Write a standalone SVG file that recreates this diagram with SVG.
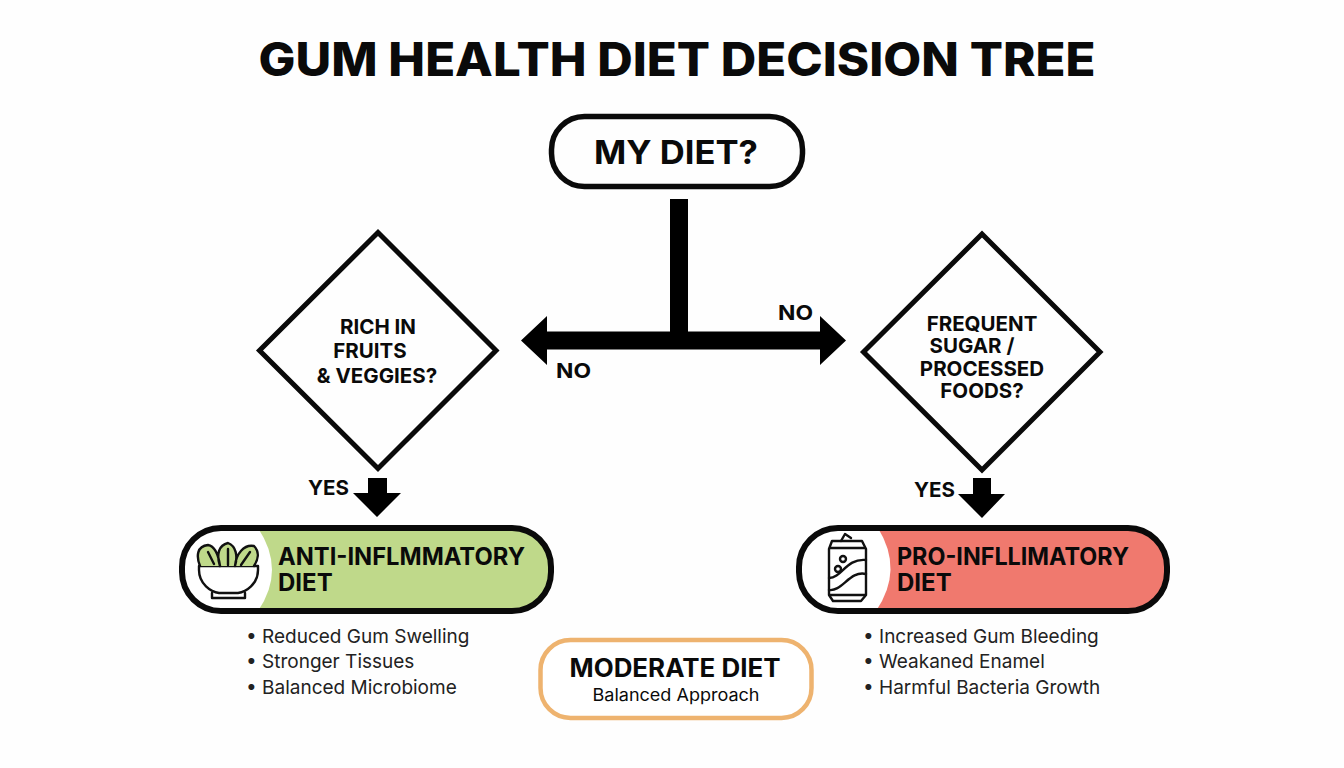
<svg xmlns="http://www.w3.org/2000/svg" width="1344" height="768" viewBox="0 0 1344 768">
<style>
text{font-family:Inter,"Liberation Sans",sans-serif;fill:#0a0a0a}
.t{font-weight:800}
.b{font-weight:700}
.l{font-weight:400;font-size:19px;fill:#222}
.k{fill:none;stroke:#0a0a0a}
.ic{fill:none;stroke:#111;stroke-width:2.4;stroke-linejoin:round;stroke-linecap:round}
</style>
<rect width="1344" height="768" fill="#fefefe"/>
<text id="title" class="t" x="677" y="76" font-size="46" text-anchor="middle" textLength="837" lengthAdjust="spacingAndGlyphs">GUM HEALTH DIET DECISION TREE</text>
<g id="connectors" fill="#000">
<path d="M670 199H688V331.500H820V316L846 340.500L820 365V349.500H547V365L521 340.500L547 316V331.500H670Z"/>
<path d="M368 478H387V493H401L377 517L353 493H368Z"/>
<path d="M973 478H991V494H1005L982 518L958 494H973Z"/>
<text class="b" x="778" y="320" font-size="20.500" textLength="35" lengthAdjust="spacingAndGlyphs">NO</text>
<text class="b" x="556" y="378" font-size="20.500" textLength="35" lengthAdjust="spacingAndGlyphs">NO</text>
<text class="b" x="308" y="495" font-size="20.500" textLength="41" lengthAdjust="spacingAndGlyphs">YES</text>
<text class="b" x="914" y="497" font-size="20.500" textLength="41" lengthAdjust="spacingAndGlyphs">YES</text>
</g>
<g id="start">
<rect class="k" x="551.500" y="116.500" width="251" height="70" rx="33" fill="#fff" stroke-width="5.500"/>
<text class="b" x="676" y="164" font-size="33" text-anchor="middle" textLength="164" lengthAdjust="spacingAndGlyphs">MY DIET?</text>
</g>
<g id="decision-left">
<path class="k" d="M378 232.500L496 350.500L378 468.500L259.500 350.500Z" stroke-width="5"/>
<g class="b" font-size="20.500" text-anchor="middle">
<text x="378" y="334">RICH IN</text>
<text x="370" y="358">FRUITS</text>
<text x="377" y="383">&amp; VEGGIES?</text>
</g>
</g>
<g id="decision-right">
<path class="k" d="M982 234L1100 352L982 470L863.500 352Z" stroke-width="5"/>
<g class="b" font-size="20.500" text-anchor="middle">
<text x="982" y="331">FREQUENT</text>
<text x="972" y="353">SUGAR /</text>
<text x="982" y="376">PROCESSED</text>
<text x="982" y="398">FOODS?</text>
</g>
</g>
<g id="anti-inflammatory">
<rect x="182" y="528" width="369" height="83" rx="38" fill="#bfd98a"/>
<path d="M220 528H258Q286 570 258 611H220Q182 611 182 570Q182 528 220 528Z" fill="#fff"/>
<rect class="k" x="182" y="528" width="369" height="83" rx="39" stroke-width="6"/>
<g class="ic">
<path d="M199 566H258V570C258 584 246 592 238 593H219C211 592 199 584 199 570Z" fill="#fff"/>
<path d="M212 593V598H245V593"/>
<path d="M200 566C196 556 197 546 208 545C214 546 218 552 220 566M220 566C216 554 219 545 228 543C236 546 238 556 235 566M235 566C236 554 244 544 254 546C260 552 258 560 254 566" fill="#bfd98a"/>
<path d="M208 552L214 564M228 549V565M250 552L241 565"/>
</g>
<text class="b" x="278" y="565" font-size="24" textLength="247" lengthAdjust="spacingAndGlyphs">ANT<tspan>I-INFLMMATORY</tspan></text>
<text class="b" x="278" y="591" font-size="24">DIET</text>
</g>
<g id="pro-inflammatory">
<rect x="799" y="528" width="368" height="83" rx="38" fill="#f0796e"/>
<path d="M837 528H878Q904 570 876 611H837Q799 611 799 570Q799 528 837 528Z" fill="#fff"/>
<rect class="k" x="799" y="528" width="368" height="83" rx="39" stroke-width="6"/>
<g class="ic">
<path d="M832 541H862L866 549V595L861 601H833L829 595V549Z"/>
<path d="M830 548H865M830 595H865M841 541L845 534L851 538"/>
<path d="M829 578C842 578 846 558 866 560M829 590C842 592 850 570 866 574"/>
<circle cx="838" cy="569" r="3"/><circle cx="843" cy="559" r="3"/>
</g>
<text class="b" x="897" y="565" font-size="24" textLength="232" lengthAdjust="spacingAndGlyphs">PRO-INFLLIMATORY</text>
<text class="b" x="897" y="591" font-size="24">DIET</text>
</g>
<g id="anti-benefits">
<text class="l" x="246" y="643">• Reduced Gum Swelling</text>
<text class="l" x="246" y="668">• Stronger Tissues</text>
<text class="l" x="246" y="694">• Balanced Microbiome</text>
</g>
<g id="pro-effects">
<text class="l" x="863" y="643">• Increased Gum Bleeding</text>
<text class="l" x="863" y="668">• Weakaned Enamel</text>
<text class="l" x="863" y="694">• Harmful Bacteria Growth</text>
</g>
<g id="moderate">
<rect x="540.500" y="640" width="271" height="78" rx="30" fill="#fff" stroke="#eeb36f" stroke-width="4.500"/>
<text class="b" x="675" y="677" font-size="25" text-anchor="middle" textLength="211" lengthAdjust="spacingAndGlyphs">MODERATE DIET</text>
<text x="676" y="701" font-size="17" text-anchor="middle" fill="#222" textLength="167" lengthAdjust="spacingAndGlyphs">Balanced Approach</text>
</g>
</svg>
